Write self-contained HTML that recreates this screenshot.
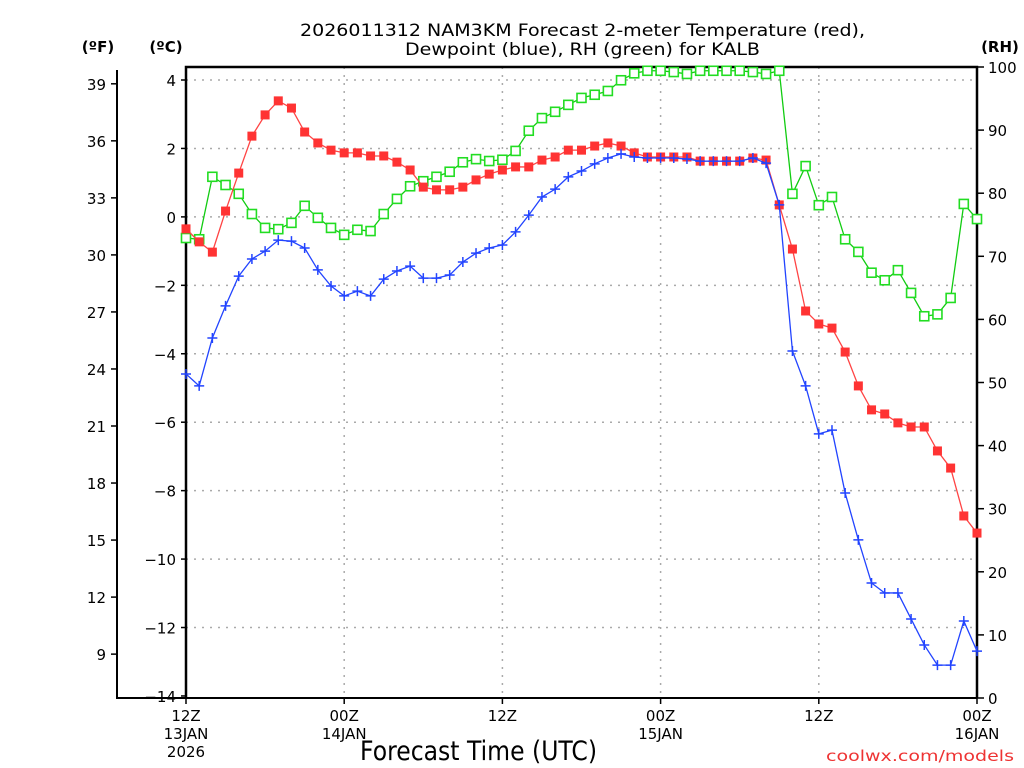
<!DOCTYPE html>
<html><head><meta charset="utf-8"><style>
body{margin:0;background:#fff}
svg{display:block;font-family:"DejaVu Sans","Liberation Sans",sans-serif}
</style></head><body>
<svg id="c" width="1024" height="768" xmlns="http://www.w3.org/2000/svg">
<text x="300" y="36" font-size="17" textLength="565" lengthAdjust="spacingAndGlyphs">2026011312 NAM3KM Forecast 2-meter Temperature (red),</text>
<text x="405" y="55" font-size="17" textLength="355" lengthAdjust="spacingAndGlyphs">Dewpoint (blue), RH (green) for KALB</text>
<text x="98" y="52" font-size="15" font-weight="bold" text-anchor="middle">(ºF)</text>
<text x="166" y="52" font-size="15" font-weight="bold" text-anchor="middle">(ºC)</text>
<text x="1000" y="52" font-size="15" font-weight="bold" text-anchor="middle">(RH)</text>
<text x="360" y="760" font-size="27" textLength="237" lengthAdjust="spacingAndGlyphs">Forecast Time (UTC)</text>
<text x="826" y="761" font-size="15" fill="#e33" textLength="188" lengthAdjust="spacingAndGlyphs">coolwx.com/models</text>
<g id="grid"></g><g id="axes"></g><g id="series"></g>
</svg>
<script>
const tempC=[-0.35,-0.73,-1.03,0.17,1.28,2.36,2.98,3.39,3.18,2.48,2.16,1.95,1.87,1.87,1.78,1.78,1.60,1.37,0.87,0.79,0.79,0.87,1.08,1.25,1.37,1.46,1.46,1.66,1.75,1.95,1.95,2.07,2.16,2.07,1.87,1.75,1.75,1.75,1.75,1.63,1.63,1.63,1.63,1.72,1.66,0.35,-0.94,-2.75,-3.13,-3.25,-3.95,-4.94,-5.64,-5.76,-6.02,-6.14,-6.14,-6.84,-7.34,-8.74,-9.24];
const dewC=[-4.59,-4.94,-3.54,-2.60,-1.73,-1.23,-1.00,-0.68,-0.71,-0.91,-1.55,-2.02,-2.31,-2.17,-2.31,-1.82,-1.58,-1.44,-1.79,-1.79,-1.70,-1.32,-1.06,-0.91,-0.82,-0.44,0.05,0.58,0.81,1.17,1.34,1.55,1.72,1.84,1.75,1.72,1.72,1.72,1.69,1.63,1.63,1.63,1.63,1.72,1.57,0.35,-3.92,-4.94,-6.34,-6.23,-8.07,-9.44,-10.70,-10.99,-10.99,-11.75,-12.51,-13.10,-13.10,-11.81,-12.69];
const rh=[72.9,72.7,82.6,81.3,79.9,76.7,74.5,74.3,75.3,78.0,76.1,74.5,73.4,74.2,74.0,76.7,79.1,81.1,81.9,82.6,83.4,84.9,85.4,85.1,85.3,86.7,89.9,91.9,92.9,94.0,95.1,95.6,96.2,97.9,99.0,99.4,99.4,99.2,98.9,99.4,99.4,99.4,99.4,99.2,98.9,99.4,79.9,84.3,78.1,79.4,72.7,70.7,67.4,66.2,67.8,64.2,60.5,60.8,63.4,78.3,75.9];
const celsiusTicks=[4,2,0,-2,-4,-6,-8,-10,-12,-14];
const fahrTicks=[39,36,33,30,27,24,21,18,15,12,9];
const rhTicks=[100,90,80,70,60,50,40,30,20,10,0];
const xTickHours=[0,12,24,36,48,60];
const xTickLabels=[["12Z","13JAN","2026"],["00Z","14JAN"],["12Z"],["00Z","15JAN"],["12Z"],["00Z","16JAN"]];
const NS="http://www.w3.org/2000/svg";
const X0=186,X1=977,YT=67,YB=698;
const xS=h=>X0+(X1-X0)*h/60;
const yC=c=>80+(4-c)*34.22;
const yF=f=>yC((f-32)/1.8);
const yR=r=>YB-(YB-YT)*r/100;
function mk(tag,attrs,parent,txt){const e=document.createElementNS(NS,tag);for(const k in attrs)e.setAttribute(k,attrs[k]);if(txt!==undefined)e.textContent=txt;parent.appendChild(e);return e;}
const grid=document.getElementById('grid'),axes=document.getElementById('axes'),ser=document.getElementById('series');
celsiusTicks.forEach(c=>{
 if(c>-14){const g=mk('line',{x1:X0,x2:X1,y1:yC(c),y2:yC(c),stroke:'#aaa','stroke-width':1.5,'stroke-dasharray':'2,6'},grid);
 
 }
 const t=mk('line',{x1:X0-5,x2:X0,y1:yC(c),y2:yC(c),stroke:'#000','stroke-width':1.5},axes);
 
 
 const l=mk('text',{x:176,y:yC(c)+6,'font-size':15,'text-anchor':'end'},axes,c<0?'\u2212'+(-c):String(c));
 
 
});
xTickHours.forEach((h,i)=>{
 if(h>0&&h<60){const g=mk('line',{x1:xS(h),x2:xS(h),y1:YT,y2:YB,stroke:'#aaa','stroke-width':1.5,'stroke-dasharray':'2,6'},grid);
 
 }
 const t=mk('line',{x1:xS(h),x2:xS(h),y1:YB,y2:YB+6,stroke:'#000','stroke-width':1.5},axes);
 
 
 xTickLabels[i].forEach((s,j)=>{const l=mk('text',{x:xS(h),y:YB+23+j*18,'font-size':15,'text-anchor':'middle'},axes,s);
 
 });
});
fahrTicks.forEach(f=>{
 const t=mk('line',{x1:111,x2:117,y1:yF(f),y2:yF(f),stroke:'#000','stroke-width':1.5},axes);
 
 
 const l=mk('text',{x:106,y:yF(f)+6,'font-size':15,'text-anchor':'end'},axes,String(f));
 
 
});
rhTicks.forEach(r=>{
 const t=mk('line',{x1:X1,x2:X1+7,y1:yR(r),y2:yR(r),stroke:'#000','stroke-width':1.5},axes);
 
 
 const l=mk('text',{x:X1+11,y:yR(r)+6,'font-size':15},axes,String(r));
 
 
});
const fr=mk('path',{d:`M${X0},${YB} V${YT} H${X1} V${YB}`,fill:'none',stroke:'#000','stroke-width':2.5},axes);


const fa=mk('path',{d:`M117,${yC(4)-10} V${YB} H${X1}`,fill:'none',stroke:'#000','stroke-width':2},axes);


function line(vals,yf,color,name){
 const p=mk('polyline',{points:vals.map((v,i)=>xS(i)+','+yf(v)).join(' '),fill:'none',stroke:color,'stroke-width':1.3},ser);
 
 
}
line(rh,yR,'#1c1','rh');
rh.forEach((v,i)=>{const m=mk('rect',{x:xS(i)-4.5,y:yR(v)-4.5,width:9,height:9,fill:'#fff',stroke:'#2d2','stroke-width':1.6},ser);
 
 });
line(tempC,yC,'#f44','temperature');
tempC.forEach((v,i)=>{const m=mk('rect',{x:xS(i)-4.5,y:yC(v)-4.5,width:9,height:9,fill:'#f33'},ser);
 
 });
line(dewC,yC,'#24f','dewpoint');
dewC.forEach((v,i)=>{const x=xS(i),y=yC(v);const m=mk('path',{d:`M${x-5},${y}H${x+5}M${x},${y-5}V${y+5}`,stroke:'#24f','stroke-width':1.5},ser);
 
 });
</script>
</body></html>
